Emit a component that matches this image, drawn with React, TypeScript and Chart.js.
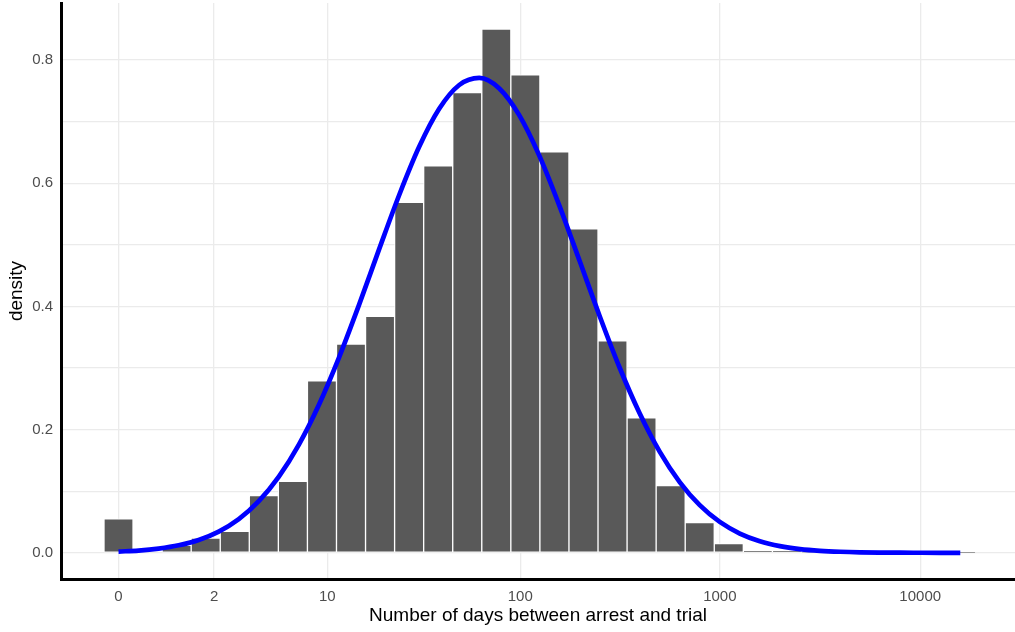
import { useEffect, useRef } from "react"
import { Chart, registerables } from "chart.js"

Chart.register(...registerables)

// histogram of log10(1 + days), 30 bins centred on multiples of binWidth
const binWidth = 0.145
const densities = [
  0.055, 0, 0.012, 0.024, 0.035, 0.093, 0.116, 0.279, 0.339, 0.384,
  0.569, 0.628, 0.747, 0.85, 0.776, 0.651, 0.526, 0.344, 0.219, 0.109,
  0.049, 0.015, 0.0037, 0.0026, 0.001, 0.0005, 0, 0, 0, 0.0005,
]

// fitted curve, read every 0.1 along the x axis
const curveStep = 0.1
const curveDensity = [
  0.002, 0.0037, 0.0069, 0.0122, 0.0209, 0.0345, 0.0548, 0.0839, 0.1237, 0.1757,
  0.2404, 0.317, 0.4025, 0.4925, 0.5804, 0.659, 0.7208, 0.7594, 0.7709, 0.7538,
  0.7101, 0.6444, 0.5633, 0.4744, 0.3849, 0.3008, 0.2265, 0.1643, 0.1148, 0.0773,
  0.0501, 0.0313, 0.0188, 0.0109, 0.0061, 0.0033, 0.0017, 0.0008, 0.0004, 0.0002,
  0.0001, 0, 0,
]

const xTickLabels = ["0", "2", "10", "100", "1000", "10000"]

const FONT = "'Liberation Sans', Arial, Helvetica, sans-serif"

export default function App() {
  const canvasRef = useRef<HTMLCanvasElement>(null)
  const chartRef = useRef<Chart | null>(null)

  useEffect(() => {
    document.body.style.margin = "0"
    if (!canvasRef.current) return
    const ctx = canvasRef.current.getContext("2d")
    if (!ctx) return
    if (chartRef.current) chartRef.current.destroy()

    chartRef.current = new Chart(ctx, {
      type: "bar",
      data: {
        datasets: [
          {
            type: "line",
            data: curveDensity.map((y, i) => ({ x: i * curveStep, y })),
            borderColor: "#0000ff",
            borderWidth: 4.7,
            pointRadius: 0,
            cubicInterpolationMode: "monotone",
            borderCapStyle: "butt",
            order: 0,
          },
          {
            type: "bar",
            data: densities.map((y, i) => ({ x: i * binWidth, y })),
            backgroundColor: "#595959",
            borderColor: "#ffffff",
            borderWidth: 1,
            borderSkipped: false,
            barPercentage: 1,
            categoryPercentage: 1,
            order: 1,
          },
        ] as any,
      },
      options: {
        responsive: false,
        animation: false,
        layout: { padding: { top: 3, right: 0, bottom: 0, left: 0 } },
        plugins: { legend: { display: false }, tooltip: { enabled: false } },
        scales: {
          x: {
            type: "linear",
            offset: false,
            min: -0.287,
            max: 4.473,
            afterFit: (s: any) => {
              s.height = 53
              s.paddingLeft = 0
              s.paddingRight = 0
            },
            afterBuildTicks: (s: any) => {
              s.ticks = xTickLabels.map((l) => ({ value: Math.log10(1 + Number(l)) }))
            },
            grid: { color: "#ebebeb", lineWidth: 1.3, drawTicks: false, offset: false },
            border: { color: "#000000", width: 3 },
            ticks: {
              autoSkip: false,
              maxRotation: 0,
              padding: 9,
              color: "#4d4d4d",
              font: { family: FONT, size: 15 },
              callback: (_v: any, i: number) => xTickLabels[i],
            },
            title: {
              display: true,
              text: "Number of days between arrest and trial",
              color: "#000000",
              font: { family: FONT, size: 19 },
              padding: { top: 0, bottom: 5 },
            },
          },
          y: {
            type: "linear",
            min: -0.0425,
            max: 0.8925,
            afterFit: (s: any) => {
              s.width = 61
              s.paddingTop = 0
              s.paddingBottom = 0
            },
            grid: { color: "#ebebeb", lineWidth: 1.3, drawTicks: false },
            border: { color: "#000000", width: 3 },
            ticks: {
              stepSize: 0.1,
              includeBounds: false,
              padding: 8,
              color: "#4d4d4d",
              font: { family: FONT, size: 15 },
              callback: (v: any) => {
                const t = Math.round(Number(v) * 10)
                return t % 2 === 0 ? (t / 10).toFixed(1) : ""
              },
            },
            title: {
              display: true,
              text: "density",
              color: "#000000",
              font: { family: FONT, size: 19 },
              padding: { top: 5, bottom: 0 },
            },
          },
        },
      },
    })

    return () => {
      if (chartRef.current) {
        chartRef.current.destroy()
        chartRef.current = null
      }
    }
  }, [])

  return (
    <div style={{ width: 1015, height: 632, background: "#ffffff" }}>
      <canvas ref={canvasRef} width={1015} height={632}></canvas>
    </div>
  )
}
